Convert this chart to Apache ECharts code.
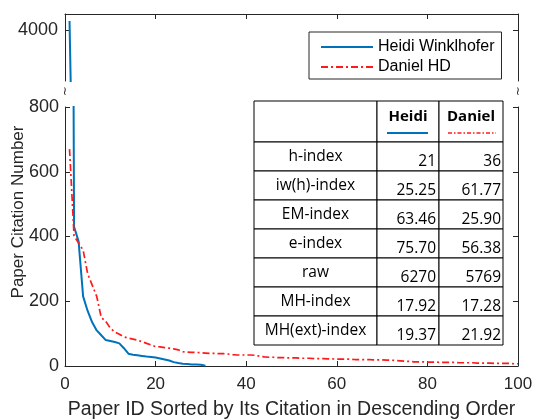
<!DOCTYPE html>
<html>
<head>
<meta charset="utf-8">
<script src="https://cdn.jsdelivr.net/npm/echarts@6/dist/echarts.min.js"></script>
<style>
html, body { margin: 0; padding: 0; background: #fff; }
#main { width: 534px; height: 420px; }
</style>
</head>
<body>
<div id="main"></div>
<script>
// citations per paper, sorted descending (paper id = index + 1)
var heidiCites = [4140, 430, 385, 215, 170, 135, 110, 95, 80, 77, 74, 70, 55, 38, 35,
    33, 31, 29, 28, 26, 23, 20, 17, 12, 9, 7, 6, 5, 5, 4, 1];
var danielCites = [670, 402, 380, 358, 285, 250, 215, 150, 138, 117, 105, 98, 90, 86, 83,
    80, 75, 70, 65, 60, 59, 57, 55, 53, 50, 44, 43, 42, 42, 41,
    40, 39, 39, 38, 38, 37, 35, 34, 34, 34, 34, 33, 30, 28, 27,
    27, 26, 26, 25, 25, 25, 24, 24, 24, 23, 23, 23, 22, 22, 21,
    21, 21, 21, 20, 20, 20, 20, 19, 19, 19, 18, 18, 17, 16, 15,
    14, 13, 13, 13, 12, 12, 12, 11, 11, 11, 11, 10, 10, 10, 10,
    9, 9, 9, 9, 8, 8, 8, 8, 7, 7];
var seriesNames = ['Heidi Winklhofer', 'Daniel HD'];
var topTicks = [4000];

// table
var indexNames = ['h-index', 'iw(h)-index', 'EM-index', 'e-index', 'raw', 'MH-index', 'MH(ext)-index'];
var heidiIndex = ['21', '25.25', '63.46', '75.70', '6270', '17.92', '19.37'];
var danielIndex = ['36', '61.77', '25.90', '56.38', '5769', '17.28', '21.92'];
var tableHeads = ['Heidi', 'Daniel'];

var BLUE = '#0072BD';
var RED = '#FF1A1A';
var AXIS = '#262626';
var DASHDOT = [7, 3, 2, 3];
var FONT = 'Liberation Sans';

function toPoints (arr) {
    return arr.map(function (v, i) { return [i + 1, v]; });
}

function axisBase () {
    return {
        type: 'value',
        axisLine: { show: true, lineStyle: { color: AXIS, width: 1 } },
        axisTick: { show: true, inside: true, length: 5, lineStyle: { color: AXIS } },
        axisLabel: { show: false },
        splitLine: { show: false }
    };
}

function buildTable () {
    var cols = [254, 377, 439, 503];
    var rowTop = 101, headH = 41, rowH = 29;
    var font = '"Open Sans", sans-serif';
    var kids = [];
    var rowsY = [rowTop, rowTop + headH];
    for (var i = 1; i <= indexNames.length; i++) rowsY.push(rowTop + headH + i * rowH);

    for (var r = 0; r < rowsY.length - 1; r++) {
        for (var c = 0; c < 3; c++) {
            kids.push({
                type: 'rect',
                shape: { x: cols[c], y: rowsY[r], width: cols[c + 1] - cols[c], height: rowsY[r + 1] - rowsY[r] },
                style: { fill: '#fff', stroke: '#000', lineWidth: 1 }
            });
        }
    }
    // header
    tableHeads.forEach(function (h, k) {
        var cx = (cols[k + 1] + cols[k + 2]) / 2;
        kids.push({
            type: 'text', x: cx, y: 117,
            style: { text: h, font: 'bold 15px ' + font, fill: '#000', align: 'center', verticalAlign: 'middle' }
        });
    });
    kids.push({ type: 'line', shape: { x1: 387, y1: 133, x2: 428, y2: 133 }, style: { stroke: BLUE, lineWidth: 2 } });
    kids.push({ type: 'line', shape: { x1: 448, y1: 133, x2: 496, y2: 133 }, style: { stroke: RED, lineWidth: 1.6, lineDash: [4, 2, 1.5, 2] } });

    indexNames.forEach(function (name, i) {
        var y0 = rowsY[i + 1];
        kids.push({
            type: 'text', x: (cols[0] + cols[1]) / 2, y: y0 + rowH / 2,
            style: { text: name, font: '15.5px ' + font, fill: '#000', align: 'center', verticalAlign: 'middle' }
        });
        kids.push({
            type: 'text', x: cols[2] - 3, y: y0 + rowH / 2 + 5,
            style: { text: heidiIndex[i], font: '15.5px ' + font, fill: '#000', align: 'right', verticalAlign: 'middle' }
        });
        kids.push({
            type: 'text', x: cols[3] - 2, y: y0 + rowH / 2 + 5,
            style: { text: danielIndex[i], font: '15.5px ' + font, fill: '#000', align: 'right', verticalAlign: 'middle' }
        });
    });
    return { type: 'group', z: 100, children: kids };
}

var chart = echarts.init(document.getElementById('main'), null, { renderer: 'canvas' });

var xTop = axisBase();
xTop.gridIndex = 0; xTop.min = 0; xTop.max = 100; xTop.interval = 20; xTop.position = 'top';

var xBottom = axisBase();
xBottom.gridIndex = 1; xBottom.min = 0; xBottom.max = 100; xBottom.interval = 20; xBottom.position = 'bottom';
xBottom.axisLabel = { show: true, color: AXIS, fontSize: 17, fontFamily: FONT, margin: 10 };
xBottom.name = 'Paper ID Sorted by Its Citation in Descending Order';
xBottom.nameLocation = 'middle';
xBottom.nameGap = 34;
xBottom.nameTextStyle = { color: AXIS, fontSize: 19.5, fontFamily: FONT };

var yTopL = axisBase();
yTopL.gridIndex = 0; yTopL.min = 3200; yTopL.max = 4250; yTopL.position = 'left';
yTopL.axisTick.customValues = topTicks;
yTopL.axisLabel = {
    show: true, customValues: topTicks, color: AXIS, fontSize: 18, fontFamily: FONT, margin: 7,
    formatter: function (v) { return String(v); }
};

var yTopR = axisBase();
yTopR.gridIndex = 0; yTopR.min = 3200; yTopR.max = 4250; yTopR.position = 'right';
yTopR.axisTick.customValues = topTicks;

var yBotL = axisBase();
yBotL.gridIndex = 1; yBotL.min = 0; yBotL.max = 800; yBotL.interval = 200; yBotL.position = 'left';
yBotL.axisLabel = { show: true, color: AXIS, fontSize: 18, fontFamily: FONT, margin: 6 };

var yBotR = axisBase();
yBotR.gridIndex = 1; yBotR.min = 0; yBotR.max = 800; yBotR.interval = 200; yBotR.position = 'right';

function lineSeries (name, data, xi, yi, color, dash) {
    return {
        name: name,
        type: 'line',
        xAxisIndex: xi,
        yAxisIndex: yi,
        data: toPoints(data),
        symbol: 'none',
        clip: true,
        animation: false,
        lineStyle: { color: color, width: dash ? 1.7 : 2, type: dash || 'solid' },
        itemStyle: { color: color }
    };
}

var option = {
    backgroundColor: '#fff',
    animation: false,
    grid: [
        { left: 65, right: 16, top: 14, height: 67, outerBoundsMode: 'none' },
        { left: 65, right: 16, top: 107, height: 259, outerBoundsMode: 'none' }
    ],
    xAxis: [xTop, xBottom],
    yAxis: [yTopL, yTopR, yBotL, yBotR],
    legend: {
        data: seriesNames,
        orient: 'vertical',
        left: 309,
        top: 32,
        padding: [7, 7, 4, 11],
        itemGap: 4,
        itemWidth: 52,
        itemHeight: 14,
        borderColor: AXIS,
        borderWidth: 1,
        backgroundColor: '#fff',
        itemStyle: { opacity: 0 },
        textStyle: { color: '#000', fontSize: 16, fontFamily: FONT }
    },
    series: [
        lineSeries(seriesNames[0], heidiCites, 0, 0, BLUE),
        lineSeries(seriesNames[1], danielCites, 0, 0, RED, DASHDOT),
        lineSeries(seriesNames[0], heidiCites, 1, 2, BLUE),
        lineSeries(seriesNames[1], danielCites, 1, 2, RED, DASHDOT)
    ],
    graphic: [
        // y axis title
        { type: 'text', x: 18, y: 212, rotation: Math.PI / 2,
          style: { text: 'Paper Citation Number', font: '17px "' + FONT + '"', fill: AXIS, align: 'center', verticalAlign: 'middle' } },
        // axis break marks
        { type: 'text', x: 65, y: 92, style: { text: '≀', font: '12px "DejaVu Sans"', fill: AXIS, align: 'center', verticalAlign: 'middle' } },
        { type: 'text', x: 518, y: 92, style: { text: '≀', font: '12px "DejaVu Sans"', fill: AXIS, align: 'center', verticalAlign: 'middle' } },
        buildTable()
    ]
};

chart.setOption(option);
</script>
</body>
</html>
